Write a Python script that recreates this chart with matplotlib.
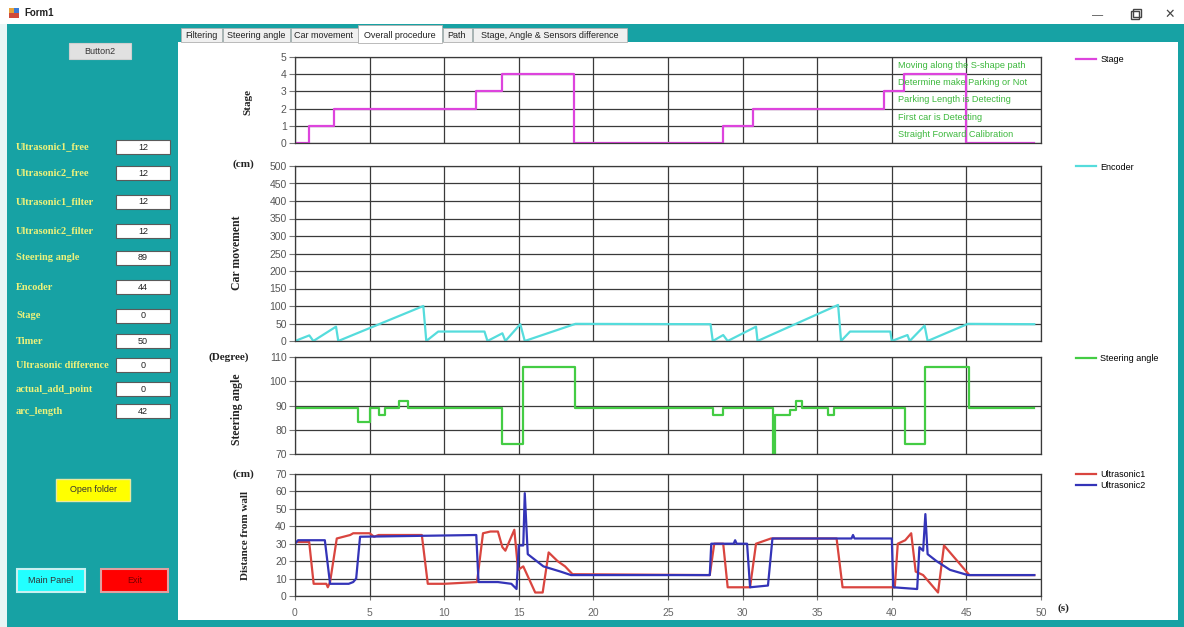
import matplotlib
matplotlib.use('Agg')
import matplotlib.pyplot as plt
from matplotlib.patches import Rectangle

plt.rcParams['font.family'] = ['Liberation Sans', 'DejaVu Sans']

# ---- data ----
# stage (step, value holds until next time)
stage_t = [0, 0.96, 2.6, 12.1, 13.9, 18.7, 28.7, 30.7, 39.5, 40.8, 45.0, 49.5]
stage_v = [0, 1, 2, 3, 4, 0, 1, 2, 3, 4, 0, 0]
stage_notes = ['Moving along the S-shape path', 'Determine make Parking or Not',
               'Parking Length is Detecting', 'First car is Detecting',
               'Straight Forward Calibration']

# encoder (cm)
enc_t = [0, 0.96, 1.23, 2.75, 2.9, 8.6, 8.8, 9.6, 12.7, 12.9, 13.9, 14.1, 15.1, 15.4,
         18.8, 27.85, 28.0, 28.7, 29.0, 30.9, 31.0, 36.4, 36.6, 37.2, 39.9, 40.0,
         41.05, 41.2, 42.2, 42.4, 45.1, 49.55]
enc_v = [0, 16, 0, 41, 0, 100, 0, 27, 27, 0, 22, 0, 48, 0,
         49, 48, 0, 17, 0, 41, 0, 103, 0, 27, 27, 0,
         17, 0, 44, 0, 49, 48]

# steering angle (degree), step
steer_t = [0, 4.2, 5.0, 5.6, 6.0, 7.0, 7.6, 13.85, 15.3, 18.8, 28.0, 28.7, 32.05,
           32.15, 33.2, 33.6, 33.95, 35.75, 36.15, 40.9, 42.2, 45.2, 49.55]
steer_v = [89, 83, 89, 86, 89, 92, 89, 74, 106, 89, 86, 89, 70,
           86, 88, 92, 89, 86, 89, 74, 106, 89, 89]

# ultrasonic distances (cm)
us1_t = [0, 0.95, 1.25, 2.1, 2.2, 2.35, 2.8, 3.7, 3.9, 5.0, 5.3, 5.6, 8.5, 8.9, 10.0,
         12.2, 12.6, 13.1, 13.6, 13.9, 14.1, 14.7, 14.95, 15.3, 16.1, 16.6, 17.0, 17.6,
         18.1, 18.6, 27.8, 28.1, 28.7, 29.0, 30.5, 30.9, 31.9, 36.3, 36.7, 40.2, 40.4,
         40.9, 41.3, 41.6, 42.1, 43.1, 43.5, 45.2, 49.55]
us1_v = [31, 31, 7, 7, 5, 8, 33, 35, 36, 36, 34, 35, 35, 7, 7,
         8, 36, 37, 37, 28, 26, 38, 15, 17, 2, 2, 25, 20,
         17, 12.5, 12, 30, 30, 5, 5, 30, 33, 33, 5, 5, 30,
         32, 36, 14, 12, 2, 29, 12, 12]
us2_t = [0, 0.2, 2.0, 2.35, 3.6, 3.9, 4.1, 4.36, 12.15, 12.3, 13.6, 14.5, 14.85, 15.0,
         15.3, 15.4, 15.6, 16.65, 17.8, 18.5, 27.8, 27.9, 29.4, 29.5, 29.6, 30.3, 30.5,
         31.7, 32.0, 37.3, 37.4, 37.5, 40.0, 40.1, 41.7, 41.85, 42.1, 42.25, 42.4, 43.0,
         43.9, 45.1, 49.55]
us2_v = [30, 32, 32, 7, 7, 8, 10, 34, 35, 8, 8, 7, 4, 29,
         29, 59, 24, 17, 14, 12, 12, 30, 30, 32, 30, 30, 5,
         6, 33, 33, 35, 33, 33, 5, 4, 28, 26, 47, 24, 20,
         15, 12, 12]

# left panel fields
field_names = ['Ultrasonic1_free', 'Ultrasonic2_free', 'Ultrasonic1_filter', 'Ultrasonic2_filter',
               'Steering angle', 'Encoder', 'Stage', 'Timer', 'Ultrasonic difference',
               'actual_add_point', 'arc_length']
field_values = ['12', '12', '12', '12', '89', '44', '0', '50', '0', '0', '42']
field_y = [147, 173, 202, 231, 258, 287, 316, 341, 365, 389, 411]

tab_names = ['Filtering', 'Steering angle', 'Car movement', 'Overall procedure', 'Path',
             'Stage, Angle & Sensors difference']
tab_edges = [180, 222, 290, 358, 442, 472, 627]

# ---- figure ----
W, H = 1184, 627
TEAL = '#17a2a4'
GRID = '#3a3a3a'
fig = plt.figure(figsize=(W / 100, H / 100), dpi=100)
fig.patch.set_facecolor('white')

bg = fig.add_axes([0, 0, 1, 1], zorder=0)
bg.set_xlim(0, W)
bg.set_ylim(H, 0)
bg.axis('off')


def box(x0, y0, x1, y1, fc, ec='none', lw=0):
    bg.add_patch(Rectangle((x0, y0), x1 - x0, y1 - y0, facecolor=fc, edgecolor=ec, linewidth=lw))


# window chrome
box(0, 24, W, H, TEAL)
box(0, 24, 7, H, '#e8f6f6')
box(178, 42, 1178, 620, 'white')
box(9, 8, 14, 13, '#e8a33a')
box(14, 8, 19, 13, '#3a7bd5')
box(9, 13, 19, 18, '#d04a3a')
bg.text(24, 13, 'Form1', fontsize=7, fontweight='bold', va='center', color='#222222')
bg.text(1098, 15, '\u2014', fontsize=8, ha='center', va='center', color='#444444')
box(1131, 11, 1139, 19, 'none', '#444444', 1)
box(1133, 9, 1141, 17, 'none', '#444444', 1)
bg.text(1170, 15, '\u2715', fontsize=9, ha='center', va='center', color='#444444')

# tabs
for i, name in enumerate(tab_names):
    x0, x1 = tab_edges[i], tab_edges[i + 1]
    if name == 'Overall procedure':
        box(x0, 25, x1, 43, 'white', '#b0b0b0', 0.6)
    else:
        box(x0 + 1, 28, x1, 42, '#f0f0f0', '#b0b0b0', 0.6)
    bg.text((x0 + x1) / 2, 35.5, name, fontsize=6.5, ha='center', va='center', color='#222222')

# left panel
box(69, 43, 131, 59, '#e1e1e1', '#cfcfcf', 0.8)
bg.text(100, 51, 'Button2', fontsize=6.5, ha='center', va='center', color='#333333')
for name, val, y in zip(field_names, field_values, field_y):
    bg.text(16, y, name, fontsize=7.5, family='Liberation Serif', fontweight='bold',
            color='#eef27a', va='center')
    box(116, y - 7, 170, y + 7, 'white', '#5a5a5a', 0.8)
    bg.text(143, y, val, fontsize=6.5, ha='center', va='center', color='#222222')
box(56, 479, 130, 501, '#ffff00', '#e8e8a0', 1)
bg.text(93, 490, 'Open folder', fontsize=6.5, ha='center', va='center', color='#333333')
box(17, 569, 85, 592, '#22ffff', '#c8f0f0', 1.5)
bg.text(51, 580.5, 'Main Panel', fontsize=6.5, ha='center', va='center', color='#333333')
box(101, 569, 168, 592, '#ff0000', '#e0a0a0', 1.5)
bg.text(134.5, 580.5, 'Exit', fontsize=6.5, ha='center', va='center', color='#7a0000')


# chart areas
def add_ax(top, bottom, ymin, ymax, ystep, show_x=False):
    left, right = 295, 1041
    ax = fig.add_axes([left / W, 1 - bottom / H, (right - left) / W, (bottom - top) / H], zorder=2)
    ax.set_facecolor('none')
    ax.set_xlim(0, 50)
    ax.set_ylim(ymin, ymax)
    ax.set_xticks(range(0, 51, 5))
    ax.set_yticks(range(ymin, ymax + 1, ystep))
    ax.grid(True, color=GRID, linewidth=0.9)
    ax.set_axisbelow(True)
    for s in ax.spines.values():
        s.set_color(GRID)
        s.set_linewidth(0.9)
    ax.tick_params(axis='y', length=4, width=0.8, color='#777777', labelsize=7.5,
                   labelcolor='#555555', pad=2)
    ax.tick_params(axis='x', length=3 if show_x else 0, width=0.8, color='#777777',
                   labelsize=7.5, labelcolor='#666666', pad=6, labelbottom=show_x)
    return ax


ax1 = add_ax(57, 143, 0, 5, 1)
ax1.step(stage_t, stage_v, where='post', color='#dd44dd', lw=1.6, label='Stage')
for k, note in enumerate(stage_notes):
    ax1.text(40.4, 4.5 - k, note, fontsize=6.6, color='#3cb83c', va='center')

ax2 = add_ax(166, 341, 0, 500, 50)
ax2.plot(enc_t, enc_v, color='#55dcdc', lw=1.6, label='Encoder')

ax3 = add_ax(357, 454, 70, 110, 10)
ax3.step(steer_t, steer_v, where='post', color='#44cc44', lw=1.6, label='Steering angle')

ax4 = add_ax(474, 596, 0, 70, 10, show_x=True)
ax4.plot(us1_t, us1_v, color='#d9453f', lw=1.6, label='Ultrasonic1')
ax4.plot(us2_t, us2_v, color='#3434b8', lw=1.6, label='Ultrasonic2')

for ax, ypix in [(ax1, 60), (ax2, 167), (ax3, 359), (ax4, 480)]:
    ax.legend(loc='center left', bbox_to_anchor=(1076 / W, 1 - ypix / H),
              bbox_transform=fig.transFigure, frameon=False, fontsize=6.5,
              handlelength=2.2, handletextpad=0.5, borderpad=0, borderaxespad=0,
              labelspacing=0.15)

# axis titles (bold serif, as in the form)
serif = dict(family='Liberation Serif', fontweight='bold', color='#222222')
bg.text(248, 102, 'Stage', rotation=90, fontsize=8, ha='center', va='center', **serif)
bg.text(237, 253, 'Car movement', rotation=90, fontsize=8.5, ha='center', va='center', **serif)
bg.text(237, 409, 'Steering angle', rotation=90, fontsize=8.5, ha='center', va='center', **serif)
bg.text(246, 535, 'Distance from wall', rotation=90, fontsize=8, ha='center', va='center', **serif)
bg.text(243, 164, '(cm)', fontsize=8, ha='center', va='center', **serif)
bg.text(229, 357, '(Degree)', fontsize=8, ha='center', va='center', **serif)
bg.text(243, 474, '(cm)', fontsize=8, ha='center', va='center', **serif)
bg.text(1063, 608, '(s)', fontsize=8, ha='center', va='center', **serif)

fig.savefig('out.png', dpi=100)
